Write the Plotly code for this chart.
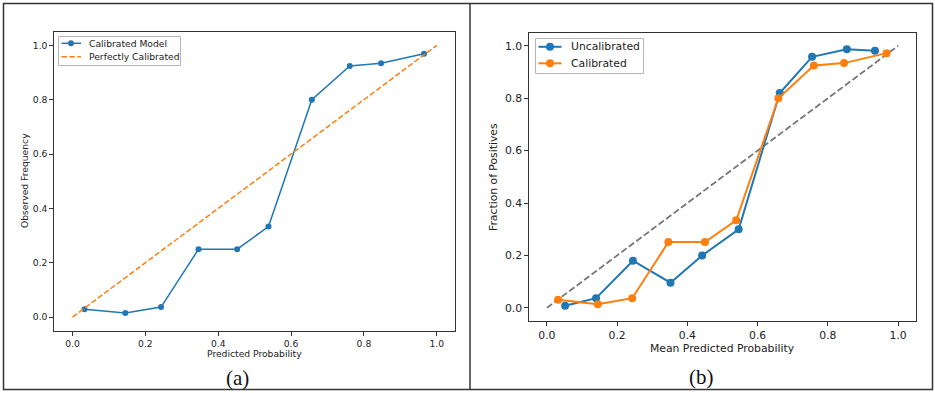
import plotly.graph_objects as go

# ---- data ----
cal_x = [0.033, 0.145, 0.243, 0.346, 0.452, 0.538, 0.657, 0.761, 0.847, 0.965]
cal_y = [0.029, 0.015, 0.037, 0.250, 0.250, 0.333, 0.800, 0.924, 0.934, 0.969]

uncal_x = [0.052, 0.140, 0.245, 0.352, 0.442, 0.546, 0.663, 0.755, 0.854, 0.934]
uncal_y = [0.008, 0.037, 0.180, 0.096, 0.200, 0.300, 0.820, 0.958, 0.987, 0.981]

cal2_x = [0.032, 0.145, 0.243, 0.346, 0.450, 0.539, 0.659, 0.760, 0.846, 0.967]
cal2_y = [0.031, 0.014, 0.037, 0.251, 0.251, 0.334, 0.800, 0.925, 0.934, 0.972]

diag = [0.0, 1.0]
ticks = [0.0, 0.2, 0.4, 0.6, 0.8, 1.0]
tick_text = ["0.0", "0.2", "0.4", "0.6", "0.8", "1.0"]

left_names = ["Calibrated Model", "Perfectly Calibrated"]
right_names = ["Uncalibrated", "Calibrated"]

BLUE = "#1f77b4"
ORANGE = "#ff7f0e"
GRAY = "#777777"
W, H = 935, 393
FONT = "DejaVu Sans"
FS_L = 9.2
FS_R = 10.8
DASH_L = "5.5px,2.4px"
DASH_R = "6.5px,2.8px"

def px(x):
    return x / W

def py(y):
    return 1 - y / H

fig = go.Figure()

# Left panel
fig.add_trace(go.Scatter(x=cal_x, y=cal_y, mode="lines+markers", name=left_names[0],
                         line=dict(color=BLUE, width=1.5), marker=dict(size=6, color=BLUE),
                         xaxis="x", yaxis="y", showlegend=False))
fig.add_trace(go.Scatter(x=diag, y=diag, mode="lines", name=left_names[1],
                         line=dict(color=ORANGE, width=1.5, dash=DASH_L),
                         xaxis="x", yaxis="y", showlegend=False))

# Right panel
fig.add_trace(go.Scatter(x=diag, y=diag, mode="lines", showlegend=False,
                         line=dict(color=GRAY, width=1.8, dash=DASH_R),
                         xaxis="x2", yaxis="y2"))
fig.add_trace(go.Scatter(x=uncal_x, y=uncal_y, mode="lines+markers", name=right_names[0],
                         line=dict(color=BLUE, width=2), marker=dict(size=8, color=BLUE),
                         xaxis="x2", yaxis="y2", showlegend=False))
fig.add_trace(go.Scatter(x=cal2_x, y=cal2_y, mode="lines+markers", name=right_names[1],
                         line=dict(color=ORANGE, width=2), marker=dict(size=8, color=ORANGE),
                         xaxis="x2", yaxis="y2", showlegend=False))

def axis(domain, fs, anchor):
    return dict(domain=domain, range=[-0.05, 1.05], tickvals=ticks, ticktext=tick_text,
                showgrid=False, zeroline=False, showline=True, mirror=True,
                linecolor="#333333", linewidth=1, ticks="outside", ticklen=4,
                tickcolor="#333333", tickfont=dict(family=FONT, size=fs, color="#222222"),
                automargin=False, anchor=anchor)

fig.update_layout(
    width=W, height=H,
    margin=dict(l=0, r=0, t=0, b=0),
    paper_bgcolor="white", plot_bgcolor="white",
    xaxis=axis([px(54.3), px(455)], FS_L, "y"),
    yaxis=axis([py(330.7), py(31.7)], FS_L, "x"),
    xaxis2=axis([px(529.3), px(915.7)], FS_R, "y2"),
    yaxis2=axis([py(321), py(32.7)], FS_R, "x2"),
    showlegend=False,
)

def note(text, x, y, size, family=FONT, angle=0, color="#222222", xanchor="center"):
    return dict(text=text, x=px(x), y=py(y), xref="paper", yref="paper",
                xanchor=xanchor, yanchor="middle", showarrow=False, textangle=angle,
                font=dict(family=family, size=size, color=color))

ann = [
    note("Predicted Probability", 255, 353, FS_L),
    note("Observed Frequency", 24, 181, FS_L, angle=-90),
    note("Mean Predicted Probability", 722, 348, FS_R),
    note("Fraction of Positives", 493, 177, FS_R, angle=-90),
    note("(a)", 237, 378, 21, family="Liberation Serif", color="#111111"),
    note("(b)", 701, 377, 21, family="Liberation Serif", color="#111111"),
]

shapes = [
    dict(type="rect", xref="paper", yref="paper", x0=px(3.5), x1=px(932.5), y0=py(389.5), y1=py(3.5),
         line=dict(color="#333333", width=1.5)),
    dict(type="line", xref="paper", yref="paper", x0=px(470), x1=px(470), y0=py(389.5), y1=py(3.5),
         line=dict(color="#333333", width=1.5)),
]

def legend_line(x0, x1, y, color, width, dash="solid"):
    return dict(type="line", xref="paper", yref="paper", x0=px(x0), x1=px(x1), y0=py(y), y1=py(y),
                line=dict(color=color, width=width, dash=dash), layer="above")

def vline(x, y0, y1, color, width):
    return dict(type="line", xref="paper", yref="paper", x0=px(x), x1=px(x), y0=py(y0), y1=py(y1),
                line=dict(color=color, width=width), layer="above")

def legend_box(x0, y0, x1, y1):
    c = "#b5b5b5"
    return [legend_line(x0, x1, y0, c, 1), legend_line(x0, x1, y1, c, 1),
            vline(x0, y0, y1, c, 1), vline(x1, y0, y1, c, 1)]

def legend_dot(cx, cy, r, color):
    return dict(type="circle", xref="paper", yref="paper", x0=px(cx - r), x1=px(cx + r),
                y0=py(cy + r), y1=py(cy - r), fillcolor=color, line=dict(color=color, width=0),
                layer="above")

# left legend
shapes += legend_box(58.5, 36.5, 180.5, 65.5)
shapes += [
    legend_line(61.5, 81, 43.3, BLUE, 1.5),
    legend_dot(71, 43.3, 3, BLUE),
    legend_line(61.5, 81, 56.8, ORANGE, 1.5, DASH_L),
]
ann += [
    note(left_names[0], 87, 43.3, FS_L, xanchor="left"),
    note(left_names[1], 87, 56.8, FS_L, xanchor="left"),
]

# right legend
shapes += legend_box(535.5, 38.5, 643.5, 73.5)
shapes += [
    legend_line(538.5, 561.5, 46.8, BLUE, 2),
    legend_dot(550, 46.8, 4, BLUE),
    legend_line(538.5, 561.5, 63.3, ORANGE, 2),
    legend_dot(550, 63.3, 4, ORANGE),
]
ann += [
    note(right_names[0], 569, 46.8, FS_R, xanchor="left"),
    note(right_names[1], 569, 63.3, FS_R, xanchor="left"),
]

fig.update_layout(shapes=shapes, annotations=ann)

fig.write_html("out.html", config={"displayModeBar": False},
               post_script="document.body.style.margin='0';document.body.style.overflow='hidden';")
